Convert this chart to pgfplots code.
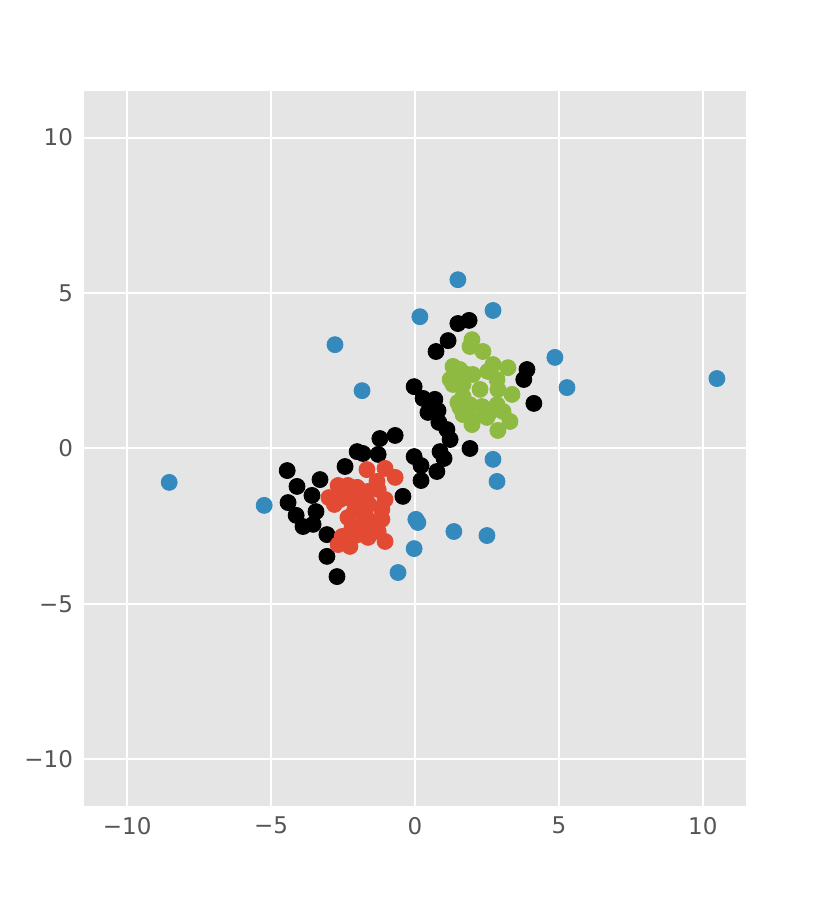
\documentclass[border=0pt]{standalone}
\usepackage{pgfplots}
\pgfplotsset{compat=1.18}
\usepackage{fontspec}
\setmainfont{DejaVu Sans}
\definecolor{ggred}{HTML}{E24A33}
\definecolor{ggblue}{HTML}{348ABD}
\definecolor{gggreen}{HTML}{8EBA42}
\definecolor{ggbg}{HTML}{E5E5E5}
\definecolor{ticktxt}{HTML}{555555}
\begin{document}
\begin{tikzpicture}
\useasboundingbox (-42pt,-46pt) rectangle (373.5pt,403pt);
\begin{axis}[
  at={(0,0)}, anchor=south west,
  width=331pt, height=357.5pt, scale only axis,
  xmin=-11.5, xmax=11.5, ymin=-11.5, ymax=11.5,
  xtick={-10,-5,0,5,10}, ytick={-10,-5,0,5,10},
  xticklabels={−10,−5,0,5,10}, yticklabels={−10,−5,0,5,10},
  axis background/.style={fill=ggbg},
  axis line style={draw=none},
  major tick length=0pt,
  grid=major,
  major grid style={white, line width=1pt},
  tick label style={font=\fontsize{11.5}{14}\selectfont, text=ticktxt},
  xticklabel style={yshift=-2pt},
  yticklabel style={xshift=-2pt},
  every axis plot/.append style={only marks, mark=*, mark size=4pt},
]
% black
\addplot[mark options={draw=black, fill=black}] coordinates {
(-4.44,-0.71) (-4.10,-1.22) (-4.41,-1.74) (-4.13,-2.15) (-3.89,-2.51)
(-3.54,-2.44) (-3.58,-1.51) (-3.30,-1.00) (-3.44,-2.03) (-3.06,-2.77)
(-3.06,-3.47) (-2.71,-4.12) (-2.43,-0.58) (-2.01,-0.10) (-1.81,-0.16)
(-1.28,-0.19) (-1.22,0.32) (-0.69,0.42) (-0.42,-1.54) (-0.03,-0.26)
(0.21,-0.55) (0.21,-1.03) (0.76,-0.74) (0.87,-0.10) (1.01,-0.32)
(1.91,0.00) (1.11,0.61) (1.22,0.29) (0.83,0.84) (0.80,1.22)
(0.45,1.16) (0.69,1.58) (0.28,1.61) (-0.03,1.99) (0.73,3.12)
(1.15,3.47) (1.49,4.02) (1.88,4.12) (3.89,2.54) (3.78,2.22)
(4.13,1.45)
};
% red
\addplot[mark options={draw=ggred, fill=ggred}] coordinates {
(-2.99,-1.58) (-2.67,-1.19) (-2.33,-1.19) (-2.01,-1.25) (-1.67,-0.68)
(-1.04,-0.64) (-0.69,-0.93) (-1.32,-1.06) (-1.63,-1.38) (-2.43,-1.58)
(-1.04,-1.64) (-1.15,-1.96) (-2.08,-1.80) (-1.74,-2.06) (-2.33,-2.22)
(-1.81,-2.44) (-1.15,-2.28) (-1.28,-2.67) (-1.04,-2.99) (-2.53,-2.83)
(-2.67,-3.09) (-2.26,-3.15) (-1.98,-2.77) (-1.63,-2.86) (-1.49,-2.35)
(-2.60,-1.64) (-1.28,-1.32) (-2.10,-2.00) (-1.90,-1.60) (-2.20,-2.60)
(-1.60,-1.80) (-2.80,-1.80)
};
% green
\addplot[mark options={draw=gggreen, fill=gggreen}] coordinates {
(1.98,3.50) (1.91,3.28) (2.36,3.12) (1.32,2.64) (1.56,2.54)
(2.71,2.70) (3.23,2.60) (2.01,2.38) (1.22,2.22) (1.32,2.06)
(1.67,2.06) (2.85,2.22) (2.26,1.90) (2.88,1.90) (3.37,1.74)
(1.67,1.67) (1.49,1.48) (1.91,1.41) (2.33,1.35) (2.85,1.41)
(2.60,1.16) (3.06,1.19) (1.67,1.09) (2.01,0.93) (2.50,1.00)
(3.30,0.87) (1.98,0.77) (2.88,0.58) (1.56,1.32) (2.53,2.48)
(1.81,2.38)
};
% blue
\addplot[mark options={draw=ggblue, fill=ggblue}] coordinates {
(-8.54,-1.09) (-5.24,-1.83) (-2.78,3.34) (-1.84,1.86) (0.17,4.24)
(1.49,5.43) (2.71,4.44) (4.86,2.93) (5.28,1.96) (10.49,2.25)
(2.71,-0.35) (2.85,-1.06) (0.03,-2.28) (0.10,-2.38) (-0.03,-3.22)
(-0.59,-3.99) (1.35,-2.67) (2.50,-2.80)
};
\end{axis}
\end{tikzpicture}
\end{document}
